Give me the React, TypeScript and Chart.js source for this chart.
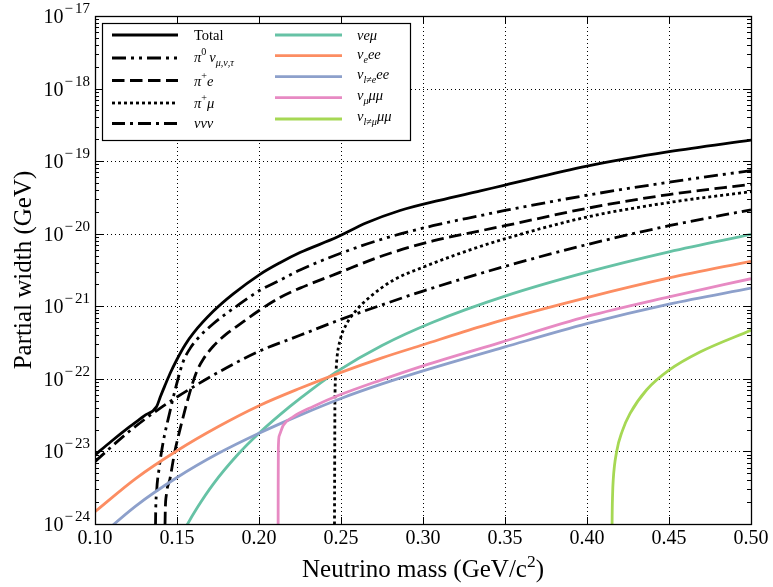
import React, { useEffect, useRef } from 'react';
import { Chart, registerables } from 'chart.js';

Chart.register(...registerables);

const FONT = '"Liberation Serif", "Times New Roman", serif';

// ---- axis ticks ----
const X_TICKS = [0.1, 0.15, 0.2, 0.25, 0.3, 0.35, 0.4, 0.45, 0.5];
const X_TICK_LABELS = ['0.10', '0.15', '0.20', '0.25', '0.30', '0.35', '0.40', '0.45', '0.50'];
const Y_EXPONENTS = [-24, -23, -22, -21, -20, -19, -18, -17];

// ---- data: neutrino mass (GeV/c^2) and log10(partial width / GeV) ----
const TOTAL_M = [0.10, 0.11, 0.12, 0.13, 0.1376, 0.1398, 0.1425, 0.1457, 0.1498, 0.155, 0.16, 0.1721, 0.1843, 0.2006, 0.2128, 0.225, 0.2474, 0.2656, 0.286, 0.31, 0.335, 0.35, 0.40, 0.45, 0.50];
const TOTAL_LOG = [-23.05, -22.86, -22.68, -22.51, -22.38, -22.25, -22.10, -21.93, -21.74, -21.53, -21.37, -21.07, -20.83, -20.56, -20.4, -20.26, -20.05, -19.85, -19.68, -19.54, -19.41, -19.33, -19.07, -18.87, -18.71];

const PI0_M = [0.1366, 0.1369, 0.1376, 0.139, 0.1415, 0.1457, 0.1498, 0.1538, 0.158, 0.162, 0.1721, 0.1863, 0.2006, 0.2128, 0.225, 0.2474, 0.2758, 0.306, 0.335, 0.35, 0.40, 0.45, 0.50];
const PI0_LOG = [-25, -24, -23.55, -23.25, -22.88, -22.45, -22.07, -21.76, -21.58, -21.46, -21.24, -21.0, -20.78, -20.64, -20.5, -20.29, -20.07, -19.89, -19.75, -19.68, -19.47, -19.29, -19.13];

const PIE_M = [0.1424, 0.1427, 0.1435, 0.1457, 0.1485, 0.1518, 0.1579, 0.162, 0.166, 0.1721, 0.1802, 0.1863, 0.2006, 0.2128, 0.225, 0.2474, 0.2758, 0.306, 0.335, 0.35, 0.40, 0.45, 0.50];
const PIE_LOG = [-25, -24, -23.6, -23.38, -23.02, -22.7, -22.18, -21.9, -21.73, -21.55, -21.38, -21.28, -21.05, -20.88, -20.75, -20.55, -20.3, -20.1, -19.96, -19.89, -19.65, -19.46, -19.32];

const PIMU_M = [0.2459, 0.2461, 0.2463, 0.2468, 0.2475, 0.2494, 0.2535, 0.2595, 0.2677, 0.2819, 0.3002, 0.3226, 0.347, 0.40, 0.45, 0.50];
const PIMU_LOG = [-25, -23.5, -22.3, -21.95, -21.72, -21.47, -21.24, -21.05, -20.87, -20.64, -20.46, -20.27, -20.09, -19.77, -19.57, -19.42];

const NNN_M = [0.10, 0.12, 0.14, 0.16, 0.18, 0.20, 0.225, 0.25, 0.275, 0.30, 0.35, 0.40, 0.45, 0.50];
const NNN_LOG = [-23.14, -22.74, -22.40, -22.11, -21.85, -21.62, -21.40, -21.18, -20.98, -20.79, -20.45, -20.15, -19.89, -19.67];

const NEMU_M = [0.145, 0.1555, 0.1625, 0.1721, 0.1864, 0.20, 0.2189, 0.2331, 0.2474, 0.275, 0.306, 0.35, 0.40, 0.45, 0.50];
const NEMU_LOG = [-24.53, -24.04, -23.77, -23.45, -23.06, -22.75, -22.38, -22.13, -21.9, -21.54, -21.22, -20.86, -20.53, -20.25, -20.01];

const NEEE_M = [0.10, 0.125, 0.15, 0.175, 0.20, 0.225, 0.25, 0.275, 0.30, 0.335, 0.35, 0.40, 0.45, 0.50];
const NEEE_LOG = [-23.83, -23.37, -22.99, -22.66, -22.37, -22.13, -21.91, -21.71, -21.53, -21.28, -21.18, -20.88, -20.61, -20.38];

const NLEE_M = [0.10, 0.125, 0.15, 0.175, 0.20, 0.225, 0.25, 0.275, 0.30, 0.35, 0.40, 0.45, 0.50];
const NLEE_LOG = [-24.23, -23.75, -23.36, -23.03, -22.75, -22.50, -22.27, -22.07, -21.89, -21.56, -21.24, -20.97, -20.75];

const NMMM_M = [0.2116, 0.2117, 0.2118, 0.2124, 0.2148, 0.221, 0.2331, 0.2494, 0.2738, 0.30, 0.347, 0.40, 0.45, 0.50];
const NMMM_LOG = [-25, -23.5, -22.95, -22.78, -22.64, -22.52, -22.38, -22.22, -22.02, -21.82, -21.5, -21.14, -20.87, -20.62];

const NLMM_M = [0.4151, 0.4153, 0.4156, 0.416, 0.4181, 0.4215, 0.4262, 0.4364, 0.45, 0.4689, 0.50];
const NLMM_LOG = [-25, -24.0, -23.6, -23.39, -23.0, -22.72, -22.48, -22.15, -21.88, -21.63, -21.33];

type Part = [string, string];

const DASHED = [12.5, 5.5];
const DASHDOT = [13, 5, 3, 5];
const DASHDOTDOT = [14, 5, 3, 5, 3, 5];
const DOTTED = [3, 3];

const SERIES: { m: number[]; lg: number[]; color: string; dash: number[]; label: Part[] }[] = [
  { m: TOTAL_M, lg: TOTAL_LOG, color: '#000000', dash: [], label: [['Total', 'r']] },
  { m: PI0_M, lg: PI0_LOG, color: '#000000', dash: DASHDOTDOT, label: [['π', 'i'], ['0', 'sup'], ['\u2009', 'r'], ['ν', 'i'], ['μ,ν,τ', 'subi']] },
  { m: PIE_M, lg: PIE_LOG, color: '#000000', dash: DASHED, label: [['π', 'i'], ['+', 'sup'], ['e', 'i']] },
  { m: PIMU_M, lg: PIMU_LOG, color: '#000000', dash: DOTTED, label: [['π', 'i'], ['+', 'sup'], ['μ', 'i']] },
  { m: NNN_M, lg: NNN_LOG, color: '#000000', dash: DASHDOT, label: [['ννν', 'i']] },
  { m: NEMU_M, lg: NEMU_LOG, color: '#66c2a5', dash: [], label: [['νeμ', 'i']] },
  { m: NEEE_M, lg: NEEE_LOG, color: '#fc8d62', dash: [], label: [['ν', 'i'], ['e', 'subi'], ['ee', 'i']] },
  { m: NLEE_M, lg: NLEE_LOG, color: '#8da0cb', dash: [], label: [['ν', 'i'], ['l≠e', 'subi'], ['ee', 'i']] },
  { m: NMMM_M, lg: NMMM_LOG, color: '#e78ac3', dash: [], label: [['ν', 'i'], ['μ', 'subi'], ['μμ', 'i']] },
  { m: NLMM_M, lg: NLMM_LOG, color: '#a6d854', dash: [], label: [['ν', 'i'], ['l≠μ', 'subi'], ['μμ', 'i']] },
];

const LINE_W = 2.8;

function drawRich(ctx: CanvasRenderingContext2D, parts: Part[], x: number, y: number, base: number, measureOnly = false) {
  let cx = x;
  for (const [t, s] of parts) {
    const isSub = s.startsWith('sub');
    const isSup = s.startsWith('sup');
    const italic = s.endsWith('i');
    const size = isSub || isSup ? base * 0.7 : base;
    ctx.font = `${italic ? 'italic ' : ''}${size}px ${FONT}`;
    const dy = isSub ? base * 0.28 : isSup ? -base * 0.42 : 0;
    if (!measureOnly) ctx.fillText(t, cx, y + dy);
    cx += ctx.measureText(t).width;
  }
  return cx - x;
}

const gridPlugin = {
  id: 'gridPlugin',
  beforeDatasetsDraw(chart: any) {
    const { ctx, chartArea: a, scales } = chart;
    const xs = scales.x;
    const ys = scales.y;
    ctx.save();
    ctx.strokeStyle = '#000';
    ctx.lineWidth = 1;
    ctx.setLineDash([1, 3]);
    for (const v of X_TICKS) {
      const px = Math.round(xs.getPixelForValue(v)) + 0.5;
      ctx.beginPath();
      ctx.moveTo(px, a.bottom);
      ctx.lineTo(px, a.top);
      ctx.stroke();
    }
    for (const e of Y_EXPONENTS) {
      const py = Math.round(ys.getPixelForValue(Math.pow(10, e))) + 0.5;
      ctx.beginPath();
      ctx.moveTo(a.left, py);
      ctx.lineTo(a.right, py);
      ctx.stroke();
    }
    ctx.restore();
  },
};

const decorPlugin = {
  id: 'decorPlugin',
  afterDraw(chart: any) {
    const { ctx, chartArea: a, scales } = chart;
    const xs = scales.x;
    const ys = scales.y;
    ctx.save();
    ctx.fillStyle = '#000';
    ctx.strokeStyle = '#000';
    const seg = (x1: number, y1: number, x2: number, y2: number) => {
      ctx.beginPath();
      ctx.moveTo(x1, y1);
      ctx.lineTo(x2, y2);
      ctx.stroke();
    };
    // inward ticks
    ctx.lineWidth = 1;
    X_TICKS.forEach((v) => {
      const px = Math.round(xs.getPixelForValue(v)) + 0.5;
      seg(px, a.bottom, px, a.bottom - 7);
      seg(px, a.top, px, a.top + 7);
    });
    Y_EXPONENTS.forEach((e) => {
      const py = Math.round(ys.getPixelForValue(Math.pow(10, e))) + 0.5;
      seg(a.left, py, a.left + 8, py);
      seg(a.right, py, a.right - 8, py);
      if (e < -17) {
        for (let k = 2; k <= 9; k++) {
          const pm = Math.round(ys.getPixelForValue(k * Math.pow(10, e))) + 0.5;
          seg(a.left, pm, a.left + 4, pm);
          seg(a.right, pm, a.right - 4, pm);
        }
      }
    });
    // frame
    ctx.lineWidth = 1.3;
    ctx.strokeRect(Math.round(a.left) + 0.5, Math.round(a.top) + 0.5, Math.round(a.right - a.left), Math.round(a.bottom - a.top));

    // x tick labels
    ctx.font = `20px ${FONT}`;
    ctx.textAlign = 'center';
    ctx.textBaseline = 'alphabetic';
    X_TICKS.forEach((v, i) => {
      ctx.fillText(X_TICK_LABELS[i], xs.getPixelForValue(v), a.bottom + 20);
    });
    // y tick labels: 10 with superscript exponent
    ctx.textAlign = 'left';
    Y_EXPONENTS.forEach((e) => {
      const py = ys.getPixelForValue(Math.pow(10, e));
      ctx.font = `20px ${FONT}`;
      const w1 = ctx.measureText('10').width;
      ctx.font = `15px ${FONT}`;
      const minus = '\u2212';
      const digits = String(Math.abs(e));
      const wm = ctx.measureText(minus).width;
      const wd = ctx.measureText(digits).width;
      const xEnd = a.left - 5;
      const x0 = xEnd - wd - 2 - wm - 1 - w1;
      ctx.font = `20px ${FONT}`;
      ctx.fillText('10', x0, py + 7);
      ctx.font = `15px ${FONT}`;
      ctx.fillText(minus, x0 + w1 + 1, py - 3);
      ctx.fillText(digits, x0 + w1 + 1 + wm + 2, py - 3);
    });
    // axis titles
    const xt: Part[] = [['Neutrino mass (GeV/c', 'r'], ['2', 'sup'], [')', 'r']];
    const wt = drawRich(ctx, xt, 0, 0, 25, true);
    drawRich(ctx, xt, (a.left + a.right) / 2 - wt / 2, 577, 25);
    ctx.save();
    ctx.translate(24, (a.top + a.bottom) / 2);
    ctx.rotate(-Math.PI / 2);
    ctx.textAlign = 'center';
    ctx.textBaseline = 'middle';
    ctx.font = `25px ${FONT}`;
    ctx.fillText('Partial width (GeV)', 0, 0);
    ctx.restore();

    // legend
    const bx = 102, by = 23, bw = 308, bh = 117;
    ctx.fillStyle = '#fff';
    ctx.fillRect(bx, by, bw, bh);
    ctx.lineWidth = 1.2;
    ctx.strokeStyle = '#000';
    ctx.strokeRect(bx + 0.5, by + 0.5, bw, bh);
    const col1Lines = [35, 58, 80.5, 103, 123.5];
    const col1Base = [40, 61.5, 85.5, 107.5, 127.5];
    const col2Lines = [35, 55.7, 76.7, 97.7, 119];
    const col2Base = [40, 59, 79, 100, 121];
    SERIES.forEach((s, i) => {
      const col = i < 5 ? 0 : 1;
      const r = i % 5;
      const ly = col === 0 ? col1Lines[r] : col2Lines[r];
      const tb = col === 0 ? col1Base[r] : col2Base[r];
      const lx0 = col === 0 ? 112 : 275;
      const lx1 = col === 0 ? 178 : 342;
      const tx = col === 0 ? 194 : 357;
      ctx.save();
      ctx.strokeStyle = s.color;
      ctx.lineWidth = LINE_W;
      ctx.setLineDash(s.dash);
      ctx.beginPath();
      ctx.moveTo(lx0, ly);
      ctx.lineTo(lx1, ly);
      ctx.stroke();
      ctx.restore();
      ctx.fillStyle = '#000';
      ctx.textAlign = 'left';
      ctx.textBaseline = 'alphabetic';
      drawRich(ctx, s.label, tx, tb, 14.5);
    });
    ctx.restore();
  },
};

export default function App() {
  const ref = useRef<HTMLCanvasElement | null>(null);
  useEffect(() => {
    if (!ref.current) return;
    const datasets = SERIES.map((s, i) => ({
      data: s.m.map((m, j) => ({ x: m, y: Math.pow(10, s.lg[j]) })),
      borderColor: s.color,
      backgroundColor: s.color,
      borderWidth: LINE_W,
      borderDash: s.dash,
      borderCapStyle: 'butt' as const,
      borderJoinStyle: 'round' as const,
      pointRadius: 0,
      fill: false,
      cubicInterpolationMode: 'monotone' as const,
      clip: 0,
      order: SERIES.length - i,
    }));
    const chart = new Chart(ref.current, {
      type: 'line',
      data: { datasets },
      options: {
        animation: false,
        responsive: true,
        maintainAspectRatio: false,
        layout: { padding: { top: 16, right: 22, left: 0, bottom: 0 } },
        plugins: { legend: { display: false }, tooltip: { enabled: false } },
        scales: {
          x: {
            type: 'linear',
            min: 0.1,
            max: 0.5,
            grid: { display: false },
            border: { display: false },
            ticks: { display: false },
            afterBuildTicks: (s: any) => {
              s.ticks = X_TICKS.map((v) => ({ value: v }));
            },
            afterFit: (s: any) => {
              s.height = 63;
            },
          },
          y: {
            type: 'logarithmic',
            min: 1e-24,
            max: 1e-17,
            grid: { display: false },
            border: { display: false },
            ticks: { display: false },
            afterBuildTicks: (s: any) => {
              s.ticks = Y_EXPONENTS.map((e) => ({ value: Math.pow(10, e) }));
            },
            afterFit: (s: any) => {
              s.width = 95;
            },
          },
        },
      } as any,
      plugins: [gridPlugin, decorPlugin],
    });
    return () => chart.destroy();
  }, []);
  return (
    <div style={{ position: 'absolute', left: 0, top: 0, width: 773, height: 587 }}>
      <canvas ref={ref} />
    </div>
  );
}
